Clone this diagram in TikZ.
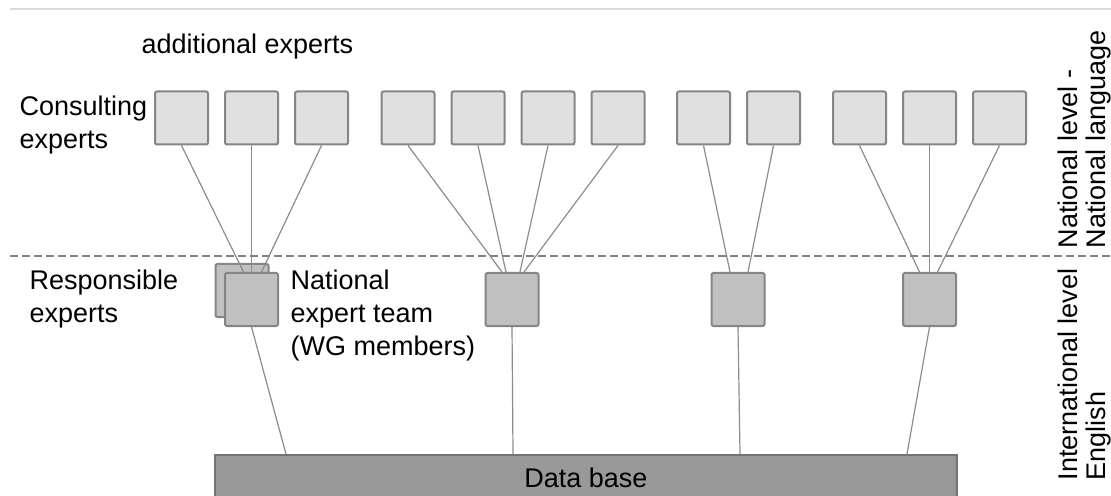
\documentclass[tikz,border=0pt]{standalone}
\usepackage{fontspec}
\setmainfont{Liberation Sans}
\usetikzlibrary{arrows}

\definecolor{consultfill}{HTML}{E0E0E0}
\definecolor{respfill}{HTML}{C0C0C0}
\definecolor{dbfill}{HTML}{999999}
\definecolor{boxline}{HTML}{858585}
\definecolor{linkline}{HTML}{8C8C8C}

\begin{document}
\begin{tikzpicture}[x = 0.5pt, y = -0.5pt, % pixel units, y going down
                auto, node distance = 35pt, % distance between box centres
                semithick % line style
            ]

            \tikzstyle{consult}=[draw = boxline, fill = consultfill, rectangle,
            rounded corners = 1pt, line width = 1pt, minimum size = 26.5pt,
            inner sep = 0pt]
            \tikzstyle{resp}=[consult, fill = respfill]
            \tikzstyle{link}=[draw = linkline, line width = 0.6pt]
            \tikzstyle{lbl}=[inner sep = 0pt, align = left, anchor = north west,
            font = \fontsize{13.5}{16.5}\selectfont]
            \tikzstyle{sidelbl}=[lbl, rotate = 90,
            font = \fontsize{13.5}{14}\selectfont]

            \useasboundingbox (0,0) rectangle (1111,496);
            \draw[black!14, line width = 1pt] (10,9) -- (1111,9);

            % national level
            \node (c1) [consult] at (181.5,118) {}; \node (c2) [consult, right
                of=c1] {}; \node (c3) [consult, right of=c2] {};
            \node (d1) [consult] at (408,118) {}; \node (d2) [consult, right
                of=d1] {}; \node (d3) [consult, right of=d2] {}; \node (d4)
            [consult, right of=d3] {};
            \node (e1) [consult] at (703.5,118) {}; \node (e2) [consult, right
                of=e1] {};
            \node (f1) [consult] at (859.5,118) {}; \node (f2) [consult, right
                of=f1] {}; \node (f3) [consult, right of=f2] {};

            % international level
            \node (b0) [resp] at (242,290.5) {}; \node (b1) [resp] at
            (251.5,299.5) {}; \node (b2) [resp] at (512,299.5) {}; \node (b3)
            [resp] at (738,299.5) {}; \node (b4) [resp] at (929.5,299.5) {};

            \node (db) [draw = black!55, fill = dbfill, line width = 1pt,
            minimum width = 371pt, minimum height = 23pt, inner sep = 0pt,
            font = \fontsize{13.5}{16.5}\selectfont] at (586,478) {Data base};

            \coordinate (divl) at (10,256); \coordinate (divr) at (1111,256);
            \draw[black!50, line width = 1pt, dash pattern = on 4pt off 2pt]
            (divl) -- (divr);

            \path[link] (c1.south) edge ([xshift=-4pt]b1.north); \path[link]
            (c2.south) edge (b1.north); \path[link] (c3.south) edge
            ([xshift=5pt]b1.north);
            \path[link] (d1.south) edge ([xshift=-5pt]b2.north); \path[link]
            (d2.south) edge ([xshift=-3pt]b2.north); \path[link] (d3.south)
            edge ([xshift=4pt]b2.north); \path[link] (d4.south) edge
            ([xshift=6pt]b2.north);
            \path[link] (e1.south) edge ([xshift=-4pt]b3.north); \path[link]
            (e2.south) edge ([xshift=5pt]b3.north);
            \path[link] (f1.south) edge ([xshift=-5pt]b4.north); \path[link]
            (f2.south) edge (b4.north); \path[link] (f3.south) edge
            ([xshift=4pt]b4.north);
            \path[link] (b1.south) edge ([xshift=36pt]db.north west);
            \path[link] (b2.south) edge ([xshift=149.5pt]db.north west);
            \path[link] (b3.south) edge ([xshift=263pt]db.north west);
            \path[link] (b4.south) edge ([xshift=346.5pt]db.north west);

            \node (extra) [lbl] at (141,33.5) {additional experts};
            \node (consulting) [lbl] at (19,95.5) {Consulting\\experts};
            \node (responsible) [lbl] at (29,269.5) {Responsible\\experts};
            \node (team) [lbl] at (290,269.5) {National\\expert team\\(WG members)};
            \node (natlevel) [sidelbl] at (1057,249) {National level -\\National language};
            \node (intlevel) [sidelbl] at (1057,481) {International level\\English};
\end{tikzpicture}
\end{document}
